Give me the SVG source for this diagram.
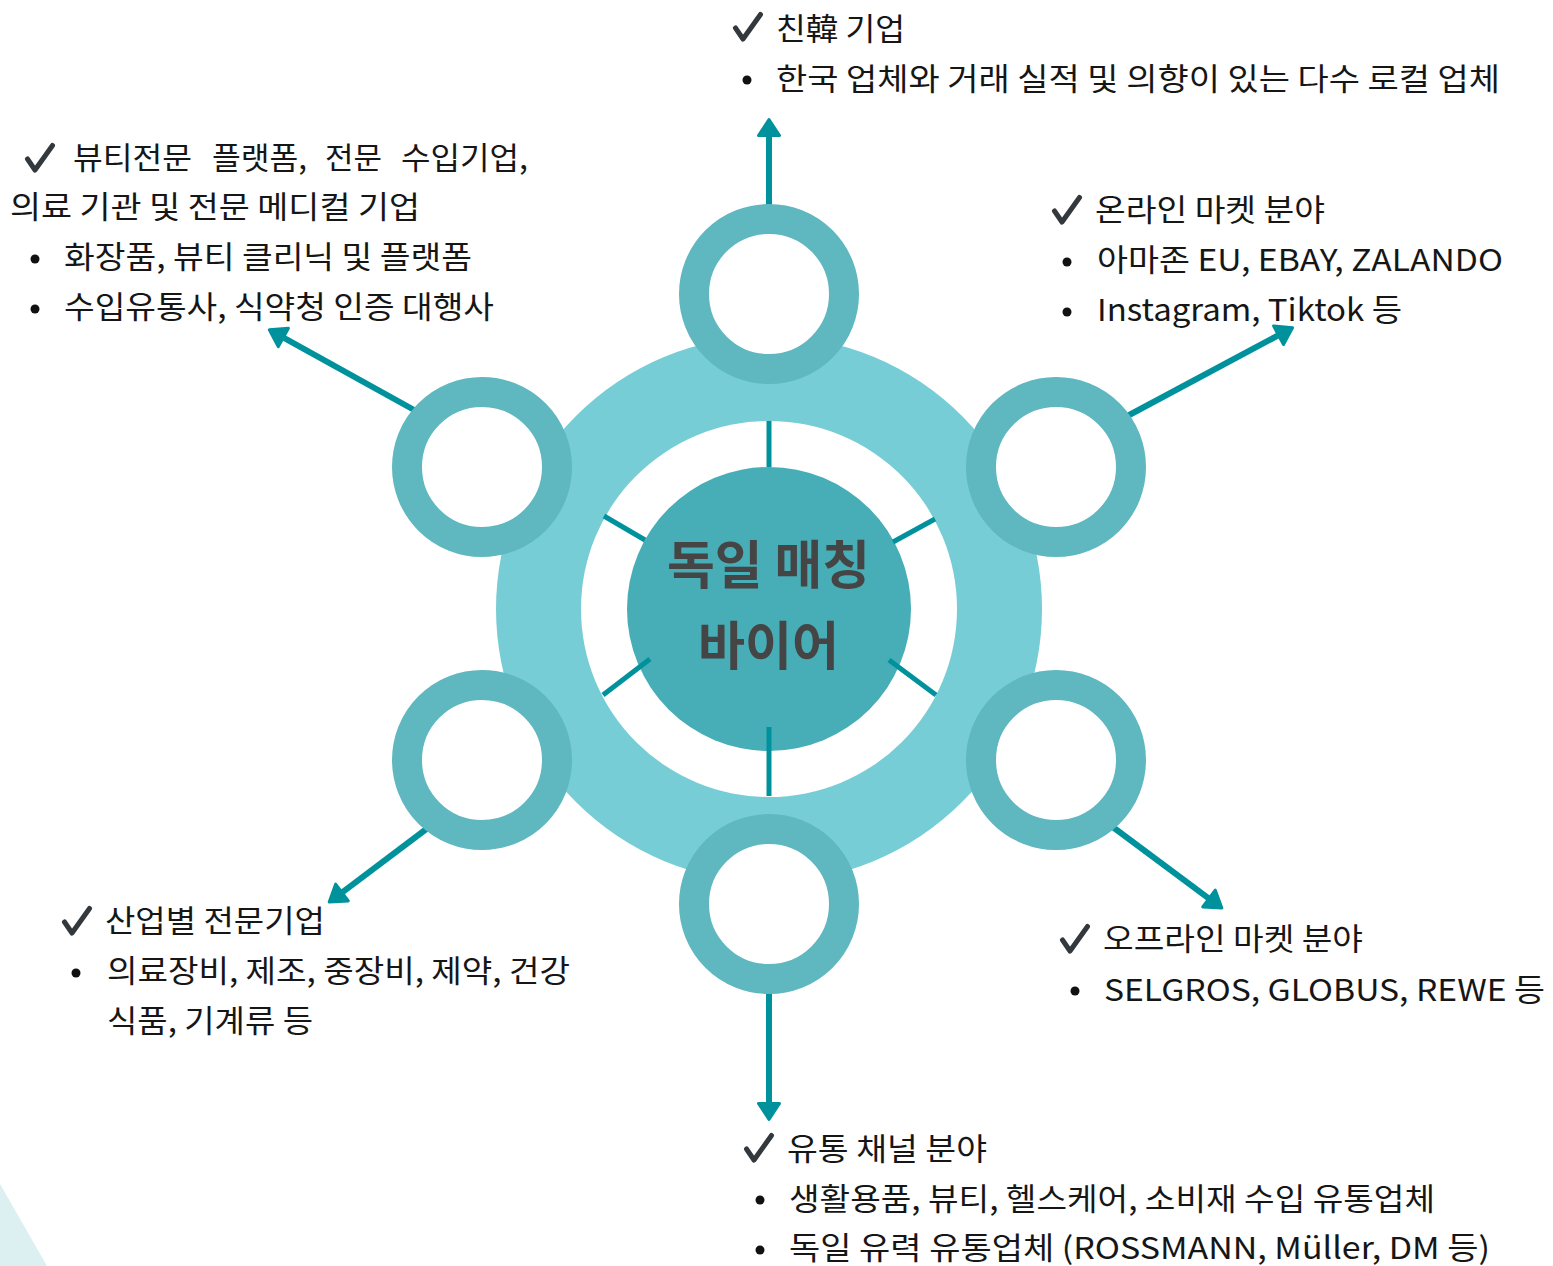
<svg xmlns="http://www.w3.org/2000/svg" xmlns:xlink="http://www.w3.org/1999/xlink" width="1553" height="1266" viewBox="0 0 1553 1266">
<style>
.t{font-family:"Noto Sans CJK KR","Noto Sans",sans-serif;font-size:30.5px;fill:#161616;}
.c{font-family:"Noto Sans CJK KR","Noto Sans",sans-serif;font-size:52px;font-weight:bold;fill:#454545;}
.sp{stroke:#00929C;stroke-width:5;fill:none;}
.ar{stroke:#00929C;stroke-width:6;fill:none;marker-end:url(#ah);}
.ring{fill:#fff;stroke:#5FB7C0;stroke-width:30;}
.chk{fill:none;stroke:#33383D;stroke-width:5;stroke-linecap:round;stroke-linejoin:round;}
.bl{fill:#111;}
</style>
<defs>
<marker id="ah" viewBox="0 0 21 26" refX="8" refY="13" markerWidth="21" markerHeight="26" markerUnits="userSpaceOnUse" orient="auto">
<path d="M2.5,2.5 L18.5,13 L2.5,23.5 Z" fill="#00929C" stroke="#00929C" stroke-width="3" stroke-linejoin="round"/>
</marker>
<path id="chk" class="chk" d="M2.5,16 L10,27 L27.5,2.5"/>
</defs>
<rect width="1553" height="1266" fill="#fff"/>
<polygon points="0,1184 47,1266 0,1266" fill="#DCEFF1"/>

<g id="hub">
<circle cx="769" cy="609" r="273" fill="#77CDD5"/>
<circle cx="769" cy="609" r="188" fill="#fff"/>
<circle cx="769" cy="609" r="142" fill="#47ADB7"/>
</g>

<g id="connectors">
<line class="sp" x1="769" y1="421" x2="769" y2="467"/>
<line class="sp" x1="604" y1="516" x2="645" y2="540"/>
<line class="sp" x1="893" y1="542" x2="935" y2="519"/>
<line class="sp" x1="650" y1="659" x2="603" y2="695"/>
<line class="sp" x1="889" y1="660" x2="936" y2="695"/>
<line class="sp" x1="769" y1="727" x2="769" y2="796"/>
<line class="ar" x1="769" y1="220" x2="769" y2="130"/>
<line class="ar" x1="425" y1="416" x2="278.5" y2="334.8"/>
<line class="ar" x1="1118" y1="421" x2="1283.4" y2="332.6"/>
<line class="ar" x1="437" y1="821" x2="337.6" y2="895.8"/>
<line class="ar" x1="1102" y1="819" x2="1213.4" y2="901.8"/>
<line class="ar" x1="769" y1="980" x2="769" y2="1109"/>
</g>

<g id="center-label">
<text class="c" x="667" y="584" textLength="203" lengthAdjust="spacingAndGlyphs">독일 매칭</text>
<text class="c" x="698" y="665" textLength="141" lengthAdjust="spacingAndGlyphs">바이어</text>
</g>

<g id="node-top"><circle class="ring" cx="769" cy="294" r="75"/></g>
<g id="node-upper-left"><circle class="ring" cx="482" cy="467" r="75"/></g>
<g id="node-upper-right"><circle class="ring" cx="1056" cy="467" r="75"/></g>
<g id="node-lower-left"><circle class="ring" cx="482" cy="760" r="75"/></g>
<g id="node-lower-right"><circle class="ring" cx="1056" cy="760" r="75"/></g>
<g id="node-bottom"><circle class="ring" cx="769" cy="904" r="75"/></g>

<g id="label-top">
<use href="#chk" x="733" y="12"/>
<text class="t" x="776" y="40" textLength="129" lengthAdjust="spacingAndGlyphs">친韓 기업</text>
<circle class="bl" cx="747" cy="80" r="4.5"/>
<text class="t" x="776" y="90" textLength="724" lengthAdjust="spacingAndGlyphs">한국 업체와 거래 실적 및 의향이 있는 다수 로컬 업체</text>
</g>

<g id="label-upper-left">
<use href="#chk" x="25" y="143"/>
<text class="t" y="169"><tspan x="73" textLength="119" lengthAdjust="spacingAndGlyphs">뷰티전문</tspan><tspan x="212" textLength="95" lengthAdjust="spacingAndGlyphs">플랫폼,</tspan><tspan x="325" textLength="57" lengthAdjust="spacingAndGlyphs">전문</tspan><tspan x="401" textLength="127" lengthAdjust="spacingAndGlyphs">수입기업,</tspan></text>
<text class="t" x="10" y="218" textLength="410" lengthAdjust="spacingAndGlyphs">의료 기관 및 전문 메디컬 기업</text>
<circle class="bl" cx="35" cy="259" r="4.5"/>
<text class="t" x="64" y="268" textLength="408" lengthAdjust="spacingAndGlyphs">화장품, 뷰티 클리닉 및 플랫폼</text>
<circle class="bl" cx="35" cy="309" r="4.5"/>
<text class="t" x="64" y="318" textLength="430" lengthAdjust="spacingAndGlyphs">수입유통사, 식약청 인증 대행사</text>
</g>

<g id="label-upper-right">
<use href="#chk" x="1052" y="195"/>
<text class="t" x="1095" y="221" textLength="230" lengthAdjust="spacingAndGlyphs">온라인 마켓 분야</text>
<circle class="bl" cx="1067" cy="262" r="4.5"/>
<text class="t" x="1097" y="271" textLength="406" lengthAdjust="spacingAndGlyphs">아마존 EU, EBAY, ZALANDO</text>
<circle class="bl" cx="1067" cy="312" r="4.5"/>
<text class="t" x="1097" y="321" textLength="305" lengthAdjust="spacingAndGlyphs">Instagram, Tiktok 등</text>
</g>

<g id="label-lower-left">
<use href="#chk" x="62" y="906"/>
<text class="t" x="105" y="932" textLength="220" lengthAdjust="spacingAndGlyphs">산업별 전문기업</text>
<circle class="bl" cx="76" cy="973" r="4.5"/>
<text class="t" x="107" y="982" textLength="463" lengthAdjust="spacingAndGlyphs">의료장비, 제조, 중장비, 제약, 건강</text>
<text class="t" x="107" y="1032" textLength="206" lengthAdjust="spacingAndGlyphs">식품, 기계류 등</text>
</g>

<g id="label-lower-right">
<use href="#chk" x="1060" y="924"/>
<text class="t" x="1103" y="950" textLength="260" lengthAdjust="spacingAndGlyphs">오프라인 마켓 분야</text>
<circle class="bl" cx="1075" cy="991" r="4.5"/>
<text class="t" x="1104" y="1001" textLength="441" lengthAdjust="spacingAndGlyphs">SELGROS, GLOBUS, REWE 등</text>
</g>

<g id="label-bottom">
<use href="#chk" x="744" y="1133"/>
<text class="t" x="787" y="1160" textLength="200" lengthAdjust="spacingAndGlyphs">유통 채널 분야</text>
<circle class="bl" cx="760" cy="1200" r="4.5"/>
<text class="t" x="789" y="1210" textLength="646" lengthAdjust="spacingAndGlyphs">생활용품, 뷰티, 헬스케어, 소비재 수입 유통업체</text>
<circle class="bl" cx="760" cy="1250" r="4.5"/>
<text class="t" x="789" y="1259" textLength="701" lengthAdjust="spacingAndGlyphs">독일 유력 유통업체 (ROSSMANN, Müller, DM 등)</text>
</g>
</svg>
